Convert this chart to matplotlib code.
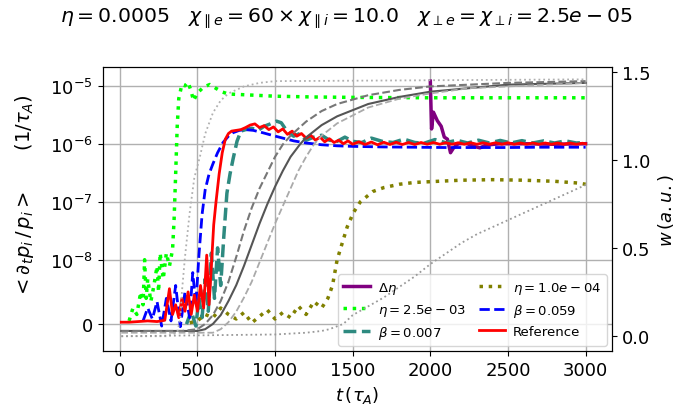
import numpy as np
import matplotlib
matplotlib.use('Agg')
from matplotlib import pyplot as plt
from matplotlib.ticker import NullLocator, FixedLocator

# growth rate <d_t p_i / p_i> (left axis, symlog)
t_ref = [10, 60, 120, 180, 240, 290, 320, 340, 360, 380, 400, 420, 440, 460, 480, 500, 520, 540, 560, 575,
         590, 605, 620, 640, 660, 680, 700, 720, 750, 780, 810, 840, 870, 900, 930, 960, 990, 1020, 1050, 1080,
         1110, 1140, 1170, 1200, 1230, 1260, 1290, 1320, 1350, 1380, 1410, 1440, 1470, 1500, 1540, 1580, 1620,
         1660, 1700, 1740, 1780, 1820, 1860, 1900, 1940, 1980, 2020, 2060, 2100, 2140, 2180, 2220, 2260, 2300,
         2340, 2380, 2420, 2460, 2500, 2540, 2580, 2620, 2660, 2700, 2740, 2780, 2820, 2860, 2900, 2940, 2980, 3000]
g_ref = [3e-10, 3e-10, 4e-10, 5e-10, 4e-10, 6e-10, 5.5e-9, 1.5e-9, 3e-9, 1e-9, 4e-9, 2e-9, 5e-9, 1.5e-9, 4.5e-9,
         2e-9, 6e-9, 2.5e-9, 1.2e-8, 3e-9, 9e-9, 4e-8, 1e-7, 3e-7, 7e-7, 1.2e-6, 1.5e-6, 1.65e-6, 1.7e-6, 1.75e-6,
         1.9e-6, 2.1e-6, 2.2e-6, 1.9e-6, 2.05e-6, 1.75e-6, 1.95e-6, 1.6e-6, 1.8e-6, 1.45e-6, 1.65e-6, 1.35e-6,
         1.5e-6, 1.25e-6, 1.4e-6, 1.15e-6, 1.3e-6, 1.08e-6, 1.22e-6, 1.05e-6, 1.15e-6, 1.0e-6, 1.12e-6, 0.98e-6,
         1.08e-6, 0.97e-6, 1.07e-6, 0.96e-6, 1.06e-6, 0.97e-6, 1.06e-6, 0.97e-6, 1.05e-6, 0.97e-6, 1.05e-6,
         0.98e-6, 1.05e-6, 0.98e-6, 1.04e-6, 0.98e-6, 1.04e-6, 0.98e-6, 1.04e-6, 0.98e-6, 1.04e-6, 0.98e-6,
         1.04e-6, 0.98e-6, 1.04e-6, 0.98e-6, 1.03e-6, 0.98e-6, 1.03e-6, 0.98e-6, 1.03e-6, 0.98e-6, 1.03e-6,
         0.98e-6, 1.03e-6, 0.98e-6, 1.02e-6, 1.0e-6]

t_b059 = [150, 180, 210, 240, 270, 300, 330, 360, 390, 420, 450, 470, 490, 510, 530, 550, 575, 600, 630, 665,
          700, 730, 770, 810, 860, 920, 980, 1050, 1120, 1200, 1300, 1400, 1500, 1700, 1900, 2100, 2300, 2500,
          2700, 2900, 3000]
g_b059 = [5e-10, 2.5e-9, 8e-10, 3.5e-9, -3e-10, 4e-9, 5e-10, 6e-9, -4e-10, 5e-9, 1e-9, 8e-9, 3e-9, 1.2e-8,
          6e-8, 1.6e-7, 3e-7, 4.5e-7, 7e-7, 1.05e-6, 1.35e-6, 1.55e-6, 1.7e-6, 1.75e-6, 1.7e-6, 1.55e-6, 1.4e-6,
          1.25e-6, 1.12e-6, 1.03e-6, 0.96e-6, 0.92e-6, 0.9e-6, 0.88e-6, 0.87e-6, 0.86e-6, 0.86e-6, 0.86e-6,
          0.87e-6, 0.87e-6, 0.87e-6]

t_b007 = [430, 460, 490, 510, 530, 550, 570, 590, 610, 630, 650, 670, 690, 710, 730, 755, 780, 810, 850, 890,
          930, 970, 1010, 1040, 1080, 1120, 1160, 1200, 1250, 1300, 1350, 1400, 1450, 1500, 1560, 1620, 1690,
          1760, 1830, 1900, 1960, 2030, 2100, 2170, 2240, 2310, 2380, 2450, 2520, 2590, 2660, 2730, 2800, 2870,
          2940, 3000]
g_b007 = [0, 2e-9, -3e-10, 4e-9, 1e-9, 7e-9, 2e-9, 1.3e-8, 4e-9, 1.6e-8, 6e-9, 2.5e-8, 1.4e-7, 3e-7, 5.5e-7,
          1.1e-6, 1.65e-6, 1.75e-6, 1.85e-6, 1.7e-6, 2.0e-6, 2.2e-6, 2.45e-6, 2.3e-6, 1.6e-6, 1.35e-6, 1.5e-6,
          1.15e-6, 1.3e-6, 1.4e-6, 1.15e-6, 1.1e-6, 1.3e-6, 1.1e-6, 1.05e-6, 1.25e-6, 1.1e-6, 1.05e-6, 1.2e-6,
          1.05e-6, 1.02e-6, 1.18e-6, 1.04e-6, 1.15e-6, 1.03e-6, 1.15e-6, 1.03e-6, 1.14e-6, 1.03e-6, 1.13e-6,
          1.03e-6, 1.12e-6, 1.03e-6, 1.12e-6, 1.03e-6, 1.05e-6]

t_eta25 = [60, 85, 110, 135, 150, 160, 170, 180, 200, 220, 240, 250, 260, 280, 300, 320, 340, 350, 360, 370,
           380, 400, 420, 440, 460, 475, 500, 540, 580, 620, 660, 700, 800, 900, 1000, 1250, 1500, 2000, 2500, 3000]
g_eta25 = [5e-10, 2.5e-9, 1.5e-9, 5e-9, 3e-9, 1e-8, 4e-9, 7e-9, 3.5e-9, 6e-9, 9e-9, 5e-9, 1.3e-8, 7e-9, 1.3e-8,
           9e-9, 1.5e-8, 5e-8, 3e-7, 2e-6, 6e-6, 1.05e-5, 1.0e-5, 1.15e-5, 8e-6, 5.5e-6, 7.5e-6, 9.5e-6, 1.05e-5,
           9e-6, 7.8e-6, 7.2e-6, 7e-6, 6.8e-6, 6.6e-6, 6.4e-6, 6.3e-6, 6.2e-6, 6.2e-6, 6.2e-6]

t_eta01 = [450, 500, 550, 600, 650, 700, 750, 800, 850, 900, 950, 1000, 1050, 1100, 1150, 1200, 1250, 1300, 1340,
           1370, 1400, 1420, 1465, 1505, 1550, 1630, 1700, 1800, 1900, 2050, 2200, 2400, 2600, 2800, 2950, 3000]
g_eta01 = [2e-10, 5e-10, 1.5e-9, 1e-9, 2.5e-9, 1.5e-9, 8e-10, 1.8e-9, 2e-10, 1.2e-9, 2.2e-9, 8e-10, 1.8e-9,
           1e-9, 2.8e-9, 1.5e-9, 3.5e-9, 2.5e-9, 4e-9, 6e-9, 1e-8, 1.5e-8, 3.7e-8, 6.5e-8, 1e-7, 1.5e-7, 1.75e-7,
           2e-7, 2.15e-7, 2.25e-7, 2.35e-7, 2.4e-7, 2.35e-7, 2.25e-7, 2.1e-7, 2.0e-7]

t_deta = [2000, 2008, 2020, 2045, 2070, 2090, 2110, 2130, 2150, 2180, 2230, 2280, 2320, 2360, 2450, 2600, 2800, 3000]
g_deta = [1.2e-5, 1.8e-6, 3.5e-6, 2.5e-6, 2.0e-6, 1.3e-6, 1.2e-6, 0.7e-6, 0.85e-6, 1.0e-6, 1.02e-6, 0.9e-6,
          0.85e-6, 0.95e-6, 1.0e-6, 1.0e-6, 0.98e-6, 1.0e-6]

# island width w (right axis)
tw_ref = [10, 300, 500, 550, 600, 650, 700, 750, 800, 850, 900, 950, 1000, 1050, 1100, 1160, 1200, 1300, 1400,
          1600, 1800, 2000, 2250, 2500, 3000]
w_ref = [0.03, 0.03, 0.03, 0.04, 0.07, 0.12, 0.2, 0.29, 0.4, 0.52, 0.64, 0.75, 0.85, 0.94, 1.02, 1.09, 1.13,
         1.2, 1.25, 1.32, 1.36, 1.39, 1.41, 1.43, 1.44]
tw_b059 = [10, 400, 500, 550, 600, 650, 700, 750, 800, 850, 900, 950, 1000, 1050, 1100, 1200, 1300, 1400, 1600,
           1800, 2000, 2500, 3000]
w_b059 = [0.03, 0.03, 0.04, 0.07, 0.12, 0.2, 0.31, 0.45, 0.6, 0.73, 0.84, 0.93, 1.02, 1.09, 1.14, 1.22, 1.28,
          1.32, 1.37, 1.4, 1.42, 1.44, 1.45]
tw_b007 = [10, 600, 650, 700, 750, 800, 850, 900, 950, 1000, 1050, 1100, 1150, 1200, 1250, 1300, 1400, 1600,
           1800, 2000, 2250, 2500, 3000]
w_b007 = [0.02, 0.02, 0.04, 0.08, 0.14, 0.22, 0.31, 0.42, 0.53, 0.64, 0.74, 0.84, 0.94, 1.02, 1.09, 1.14, 1.21,
          1.3, 1.35, 1.38, 1.41, 1.42, 1.44]
tw_eta25 = [10, 300, 370, 390, 400, 420, 450, 480, 516, 550, 600, 650, 700, 800, 900, 1000, 3000]
w_eta25 = [0.0, 0.0, 0.02, 0.1, 0.25, 0.45, 0.7, 0.9, 1.02, 1.15, 1.27, 1.34, 1.38, 1.42, 1.44, 1.45, 1.46]
tw_eta01 = [10, 1000, 1200, 1300, 1350, 1440, 1500, 1600, 1700, 1800, 1900, 2000, 2100, 2200, 2300, 2400, 2500,
            2600, 2700, 2800, 2900, 3000]
w_eta01 = [0.0, 0.01, 0.02, 0.03, 0.04, 0.07, 0.12, 0.17, 0.22, 0.28, 0.34, 0.41, 0.47, 0.53, 0.58, 0.62, 0.66,
           0.7, 0.74, 0.78, 0.82, 0.86]

plt.figure(figsize=(6.8, 4.1), dpi=100)
ax = plt.subplot(1, 1, 1)
plt.subplots_adjust(left=0.151, right=0.9, bottom=0.141, top=0.834)

ax.plot(t_deta, g_deta, color='purple', lw=2.5, label=r'$\Delta\eta$')
ax.plot(t_eta25, g_eta25, color='lime', lw=2.5, ls=':', label=r'$\eta = 2.5e-03$')
ax.plot(t_b007, g_b007, color='#2e8a80', lw=2.5, ls='--', label=r'$\beta = 0.007$')
ax.plot(t_eta01, g_eta01, color='olive', lw=2.5, ls=':', label=r'$\eta = 1.0e-04$')
ax.plot(t_b059, g_b059, color='blue', lw=2, ls='--', label=r'$\beta = 0.059$')
ax.plot(t_ref, g_ref, color='red', lw=2, label='Reference')

ax.set_yscale('symlog', linthresh=1e-8, linscale=1)
ax.set_ylim(-4.2e-9, 2.1e-5)
ax.yaxis.set_major_locator(FixedLocator([0, 1e-8, 1e-7, 1e-6, 1e-5]))
ax.yaxis.set_minor_locator(NullLocator())
ax.set_xlim(-110, 3170)
ax.set_xticks([0, 500, 1000, 1500, 2000, 2500, 3000])
ax.grid(True, color='#b0b0b0', lw=1)
ax.tick_params(labelsize=13)
ax.set_xlabel(r'$t\,(\tau_A)$', fontsize=13)
ax.set_ylabel(r'$<\partial_t p_i\,/\,p_i>$      $(1/\tau_A)$', fontsize=14)
ax.yaxis.set_label_coords(-0.13, 0.55)
ax.legend(loc='lower right', ncol=2, fontsize=9.5, columnspacing=1.0, handletextpad=0.6,
          labelspacing=0.45, borderaxespad=0.4)

ax2 = ax.twinx()
ax2.plot(tw_ref, w_ref, color='#555555', lw=1.5)
ax2.plot(tw_b059, w_b059, color='#777777', lw=1.5, ls='--')
ax2.plot(tw_b007, w_b007, color='#aaaaaa', lw=1.3, ls='--')
ax2.plot(tw_eta25, w_eta25, color='#b0b0b0', lw=1.3, ls=':')
ax2.plot(tw_eta01, w_eta01, color='#999999', lw=1.3, ls=':')
ax2.set_ylim(-0.085, 1.53)
ax2.set_yticks([0.0, 0.5, 1.0, 1.5])
ax2.tick_params(labelsize=13)
ax2.set_ylabel(r'$w\,(a.u.)$', fontsize=13)

plt.suptitle(r'$\eta = 0.0005$   $\chi_{\parallel e} = 60 \times \chi_{\parallel i} = 10.0$   '
             r'$\chi_{\perp e} = \chi_{\perp i} = 2.5e-05$', fontsize=14.7, x=0.51, y=0.983)
plt.savefig('out.png')
